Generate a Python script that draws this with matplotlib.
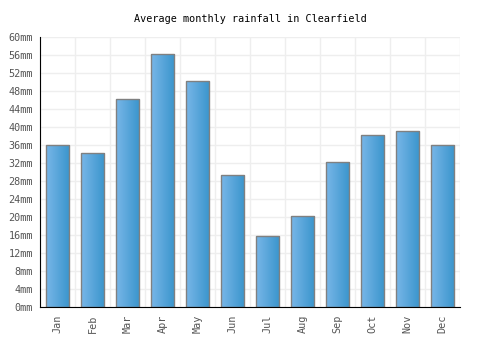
import numpy as np
import matplotlib
matplotlib.use('Agg')
import matplotlib.pyplot as plt
from matplotlib.colors import LinearSegmentedColormap

# data
months = ['Jan', 'Feb', 'Mar', 'Apr', 'May', 'Jun', 'Jul', 'Aug', 'Sep', 'Oct', 'Nov', 'Dec']
rainfall = [36.0, 34.2, 46.3, 56.3, 50.3, 29.5, 15.8, 20.4, 32.3, 38.2, 39.1, 36.0]
yticks = list(range(0, 61, 4))
ytick_labels = [f'{v}mm' for v in yticks]

plt.rcParams['font.family'] = ['DejaVu Sans Mono']

fig = plt.figure(figsize=(5, 3.5), dpi=100)
ax = fig.add_axes([0.08, 0.122, 0.84, 0.7714])

x = np.arange(len(months))
bar_w = 0.67
bars = ax.bar(x, rainfall, width=bar_w, color='none', edgecolor='#808080', linewidth=1.0, zorder=3)

# horizontal gradient inside each bar
cmap = LinearSegmentedColormap.from_list('bluegrad', ['#78b6e8', '#3a95cc'])
grad = np.linspace(0, 1, 64).reshape(1, -1)
for b in bars:
    x0, y0 = b.get_x(), b.get_y()
    w, h = b.get_width(), b.get_height()
    im = ax.imshow(grad, cmap=cmap, aspect='auto', extent=[x0, x0 + w, y0, y0 + h], zorder=2)
    im.set_clip_path(b)

ax.set_xlim(-0.5, len(months) - 0.5)
ax.set_ylim(0, 60)

# grid at category boundaries and every 4mm
for xb in np.arange(-0.5, len(months) + 0.5, 1):
    ax.axvline(xb, color='#eeeeee', linewidth=1, zorder=1)
for yv in yticks:
    ax.axhline(yv, color='#eeeeee', linewidth=1, zorder=1)

ax.set_xticks(x)
ax.set_xticklabels(months, rotation=90, fontsize=7.3, color='#555555')
ax.set_yticks(yticks)
ax.set_yticklabels(ytick_labels, fontsize=7.3, color='#555555')
ax.tick_params(axis='both', length=0, pad=5)

ax.spines['top'].set_visible(False)
ax.spines['right'].set_visible(False)
ax.spines['left'].set_color('black')
ax.spines['bottom'].set_color('black')
ax.spines['left'].set_zorder(4)
ax.spines['bottom'].set_zorder(4)

fig.text(0.5, 0.946, 'Average monthly rainfall in Clearfield', ha='center', va='center',
         fontsize=7.3, color='black')

fig.savefig('out.png', dpi=100)
